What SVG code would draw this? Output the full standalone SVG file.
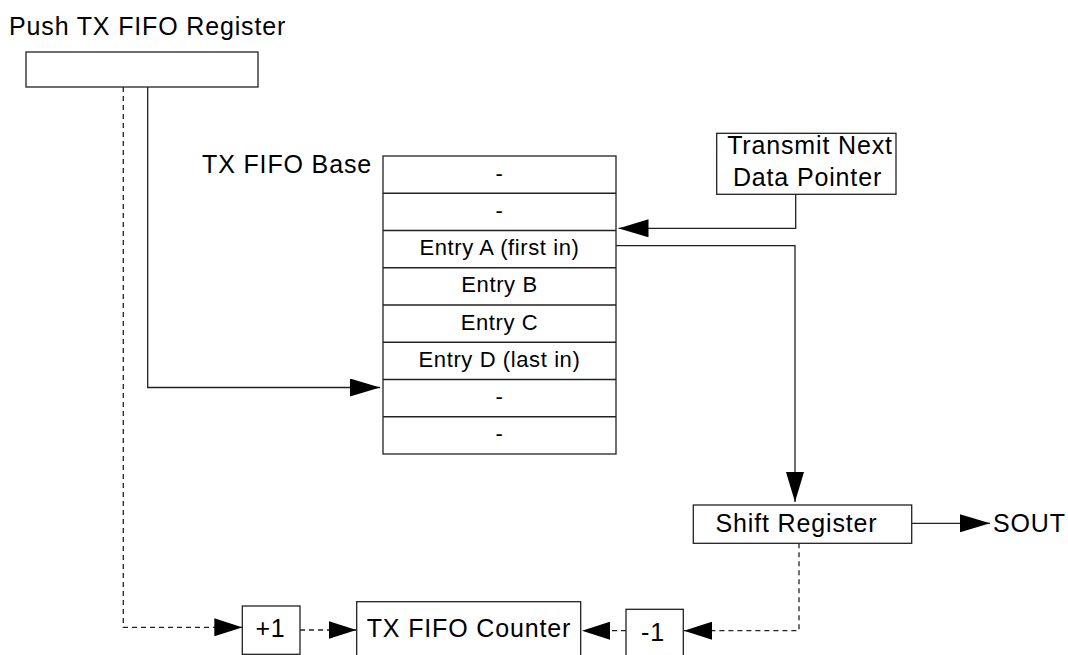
<svg xmlns="http://www.w3.org/2000/svg" width="1068" height="655" viewBox="0 0 1068 655">
<style>
.box{fill:#fff;stroke:#222;stroke-width:1.3}
.ln{fill:none;stroke:#222;stroke-width:1.3}
.dash{stroke-dasharray:5,4}
.big{font-family:"Liberation Sans",Arial,sans-serif;font-size:25px;letter-spacing:0.85px;fill:#000}
.cell{font-family:"Liberation Sans",Arial,sans-serif;font-size:22px;letter-spacing:0.6px;fill:#000;text-anchor:middle}
.mid{text-anchor:middle}
</style>
<defs>
<marker id="ah" markerUnits="userSpaceOnUse" markerWidth="30" markerHeight="18" refX="30" refY="9" orient="auto" viewBox="0 0 30 18">
<path d="M0,0 L30,9 L0,18 Z" fill="#000"/>
</marker>
<marker id="ahs" markerUnits="userSpaceOnUse" markerWidth="28" markerHeight="18" refX="28" refY="9" orient="auto" viewBox="0 0 28 18">
<path d="M0,0 L28,9 L0,18 Z" fill="#000"/>
</marker>
</defs>
<rect width="1068" height="655" fill="#fff"/>

<g id="connectors">
<path class="ln" d="M147.7,87 V387.5 H380" marker-end="url(#ah)"/>
<path class="ln" d="M795.7,194.3 V228.3 H618.5" marker-end="url(#ah)"/>
<path class="ln" d="M616,245.7 H795 V502" marker-end="url(#ah)"/>
<path class="ln" d="M912,523.3 H990" marker-end="url(#ah)"/>
<path class="ln dash" d="M123.3,87 V627.3 H242.3" marker-end="url(#ahs)"/>
<path class="ln dash" d="M300,630 H356.5" marker-end="url(#ahs)"/>
<path class="ln dash" d="M799,543.3 V630.7 H684" marker-end="url(#ahs)"/>
<path class="ln dash" d="M626,630.7 H582" marker-end="url(#ahs)"/>
</g>

<g id="push-register">
<rect class="box" x="26" y="52" width="232" height="35"/>
<text class="big" x="9" y="35">Push TX FIFO Register</text>
</g>

<g id="tx-fifo">
<text class="big" x="372" y="172.7" text-anchor="end">TX FIFO Base</text>
<rect class="box" x="383" y="156" width="233" height="298"/>
<path class="ln" d="M383,193.25 H616 M383,230.5 H616 M383,267.75 H616 M383,305 H616 M383,342.25 H616 M383,379.5 H616 M383,416.75 H616"/>
<text class="cell" x="499.5" y="180.6">-</text>
<text class="cell" x="499.5" y="217.9">-</text>
<text class="cell" x="499.5" y="255.1">Entry A (first in)</text>
<text class="cell" x="499.5" y="292.4">Entry B</text>
<text class="cell" x="499.5" y="329.6">Entry C</text>
<text class="cell" x="499.5" y="366.9">Entry D (last in)</text>
<text class="cell" x="499.5" y="404.1">-</text>
<text class="cell" x="499.5" y="441.4">-</text>
</g>

<g id="transmit-pointer">
<rect class="box" x="716.7" y="133.3" width="179.3" height="61"/>
<text class="big mid" x="810" y="154.3">Transmit Next</text>
<text class="big mid" x="807.5" y="186">Data Pointer</text>
</g>

<g id="shift-register">
<rect class="box" x="693.3" y="505" width="218.4" height="38.3"/>
<text class="big mid" x="796.5" y="531.7">Shift Register</text>
</g>

<g id="sout">
<text class="big" x="993" y="531.7">SOUT</text>
</g>

<g id="plus-one">
<rect class="box" x="242.3" y="606" width="57.7" height="48.3"/>
<text class="big mid" x="270.5" y="636.7">+1</text>
</g>

<g id="tx-fifo-counter">
<rect class="box" x="356.7" y="601.7" width="224" height="60"/>
<text class="big" x="366.7" y="636.7">TX FIFO Counter</text>
</g>

<g id="minus-one">
<rect class="box" x="626" y="609.3" width="57.3" height="52"/>
<text class="big mid" x="653" y="640.7">-1</text>
</g>
</svg>
